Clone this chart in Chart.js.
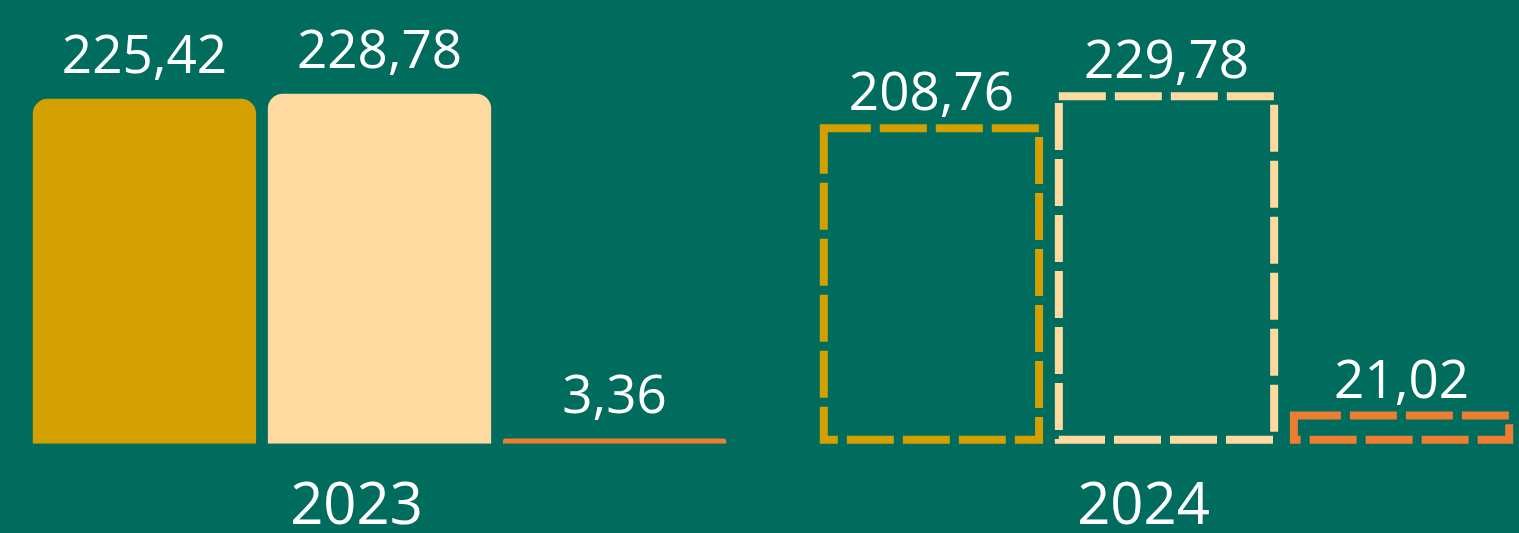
<!DOCTYPE html>
<html>
<head>
<meta charset="utf-8">
<script src="https://cdn.jsdelivr.net/npm/chart.js@4.4.1/dist/chart.umd.min.js"></script>
<style>
  html, body { margin: 0; padding: 0; background: #006C5E; overflow: hidden; width: 1519px; height: 533px; }
  #c { display: block; margin-left: -14px; }
</style>
</head>
<body>
<canvas id="c" width="1574" height="573"></canvas>
<script>
// ---- data ----
const categories = ['2023', '2024'];
const dashedCategories = ['2024'];
const seriesGold = [225.42, 208.76];
const seriesPeach = [228.78, 229.78];
const seriesOrange = [3.36, 21.02];

const colors = ['#D4A000', '#FED9A0', '#ED7D31'];
const seriesList = [seriesGold, seriesPeach, seriesOrange];

const isDashed = (i) => dashedCategories.includes(categories[i]);
const fmt = (v) => v.toFixed(2).replace('.', ',');

const datasets = seriesList.map((data, k) => ({
  data: data,
  backgroundColor: (ctx) => isDashed(ctx.dataIndex) ? 'rgba(0,0,0,0)' : colors[k],
  borderWidth: 0,
  borderSkipped: 'bottom',
  borderRadius: (ctx) => isDashed(ctx.dataIndex) ? 0 : { topLeft: 15, topRight: 15, bottomLeft: 0, bottomRight: 0 },
  outlineColor: colors[k],
  categoryPercentage: 0.896,
  barPercentage: 0.95
}));

const dashedOutline = {
  id: 'dashedOutline',
  afterDatasetsDraw(chart) {
    const ctx = chart.ctx;
    const lw = 8;
    chart.data.datasets.forEach((ds, di) => {
      const meta = chart.getDatasetMeta(di);
      meta.data.forEach((el, i) => {
        if (!isDashed(i)) return;
        const p = el.getProps(['x', 'y', 'base', 'width'], true);
        const l = p.x - p.width / 2 + lw / 2;
        const r = p.x + p.width / 2 - lw / 2;
        const t = p.y + lw / 2;
        const b = p.base - lw / 2;
        ctx.save();
        ctx.strokeStyle = ds.outlineColor;
        ctx.lineWidth = lw;
        ctx.setLineDash([47, 9]);
        ctx.beginPath();
        ctx.moveTo(l, t);
        ctx.lineTo(r, t);
        ctx.lineTo(r, b);
        ctx.lineTo(l, b);
        ctx.closePath();
        ctx.stroke();
        ctx.restore();
      });
    });
  }
};

const valueLabels = {
  id: 'valueLabels',
  afterDatasetsDraw(chart) {
    const ctx = chart.ctx;
    ctx.save();
    ctx.fillStyle = '#FFFFFF';
    ctx.font = '53px "Open Sans"';
    ctx.textAlign = 'center';
    ctx.textBaseline = 'alphabetic';
    chart.data.datasets.forEach((ds, di) => {
      const meta = chart.getDatasetMeta(di);
      meta.data.forEach((el, i) => {
        const p = el.getProps(['x', 'y'], true);
        const off = isDashed(i) ? 14 : 26;
        ctx.fillText(fmt(ds.data[i]), p.x, p.y - off);
      });
    });
    ctx.restore();
  }
};

new Chart(document.getElementById('c'), {
  type: 'bar',
  data: { labels: categories, datasets: datasets },
  options: {
    responsive: false,
    animation: false,
    layout: { padding: { left: 0, right: 0, top: 0, bottom: 2 } },
    plugins: { legend: { display: false }, tooltip: { enabled: false } },
    scales: {
      x: {
        grid: { display: false, drawTicks: false },
        border: { display: false },
        ticks: {
          color: '#FFFFFF',
          font: { family: 'Open Sans', size: 58, lineHeight: 1.16 },
          padding: 30,
          labelOffset: -23
        }
      },
      y: {
        display: false,
        min: 0,
        max: 290
      }
    }
  },
  plugins: [dashedOutline, valueLabels]
});
</script>
</body>
</html>
